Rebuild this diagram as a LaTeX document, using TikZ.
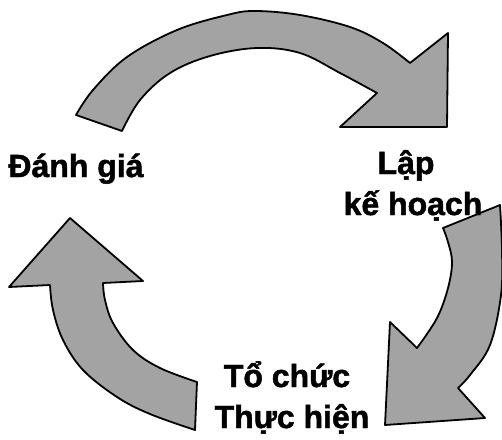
\documentclass[tikz,border=0pt]{standalone}
\usepackage{fontspec}
\setmainfont{Liberation Sans}
\newfontfamily\lblfont[FakeBold=1.5]{Liberation Sans Bold}
\begin{document}
\begin{tikzpicture}[x=1pt,y=-1pt,
  blockarrow/.style={draw=black,line width=1.8pt,line join=round,fill=black!36},
  lbl/.style={font=\fontsize{32}{41}\lblfont,anchor=base,inner sep=0pt}]
\useasboundingbox (0,0) rectangle (502,439);
% top arrow: Danh gia -> Lap ke hoach
\draw[blockarrow] (76,115)
  -- plot[smooth,tension=0.6] coordinates {(76,115) (93,90) (127,57) (177,30) (227,15) (255,11) (300,15) (350,27) (383,43) (410,63)}
  -- (448,33) -- (447,127) -- (340,127) -- (377,93)
  -- plot[smooth,tension=0.6] coordinates {(377,93) (340,73) (300,53) (257,48) (210,56) (170,73) (140,100) (122,131)}
  -- cycle;
% right arrow: Lap ke hoach -> To chuc
\draw[blockarrow] (443,228) -- (500,205)
  -- plot[smooth,tension=0.6] coordinates {(500,205) (502,250) (501,295) (490,345) (470,375) (458,388)}
  -- (485,418) -- (385,425) -- (390,322) -- (417,348)
  -- plot[smooth,tension=0.6] coordinates {(417,348) (437,318) (448,288) (452,262) (448,242) (443,228)}
  -- cycle;
% left arrow: To chuc -> Danh gia
\draw[blockarrow] (197,382)
  -- plot[smooth,tension=0.6] coordinates {(197,382) (160,368) (133,350) (113,323) (105,300) (103,283)}
  -- (143,281) -- (70,218) -- (9,287) -- (50,285)
  -- plot[smooth,tension=0.6] coordinates {(50,285) (53,310) (63,340) (83,370) (117,397) (150,414) (195,430)}
  -- cycle;
\node[lbl] (danhgia) at (76,177) {Đánh giá};
\node[lbl] (lap) at (406,174) {Lập};
\node[lbl] (kehoach) at (413,215) {kế hoạch};
\node[lbl] (tochuc) at (287,387) {Tổ chức};
\node[lbl] (thuchien) at (292,428) {Thực hiện};
\end{tikzpicture}
\end{document}
